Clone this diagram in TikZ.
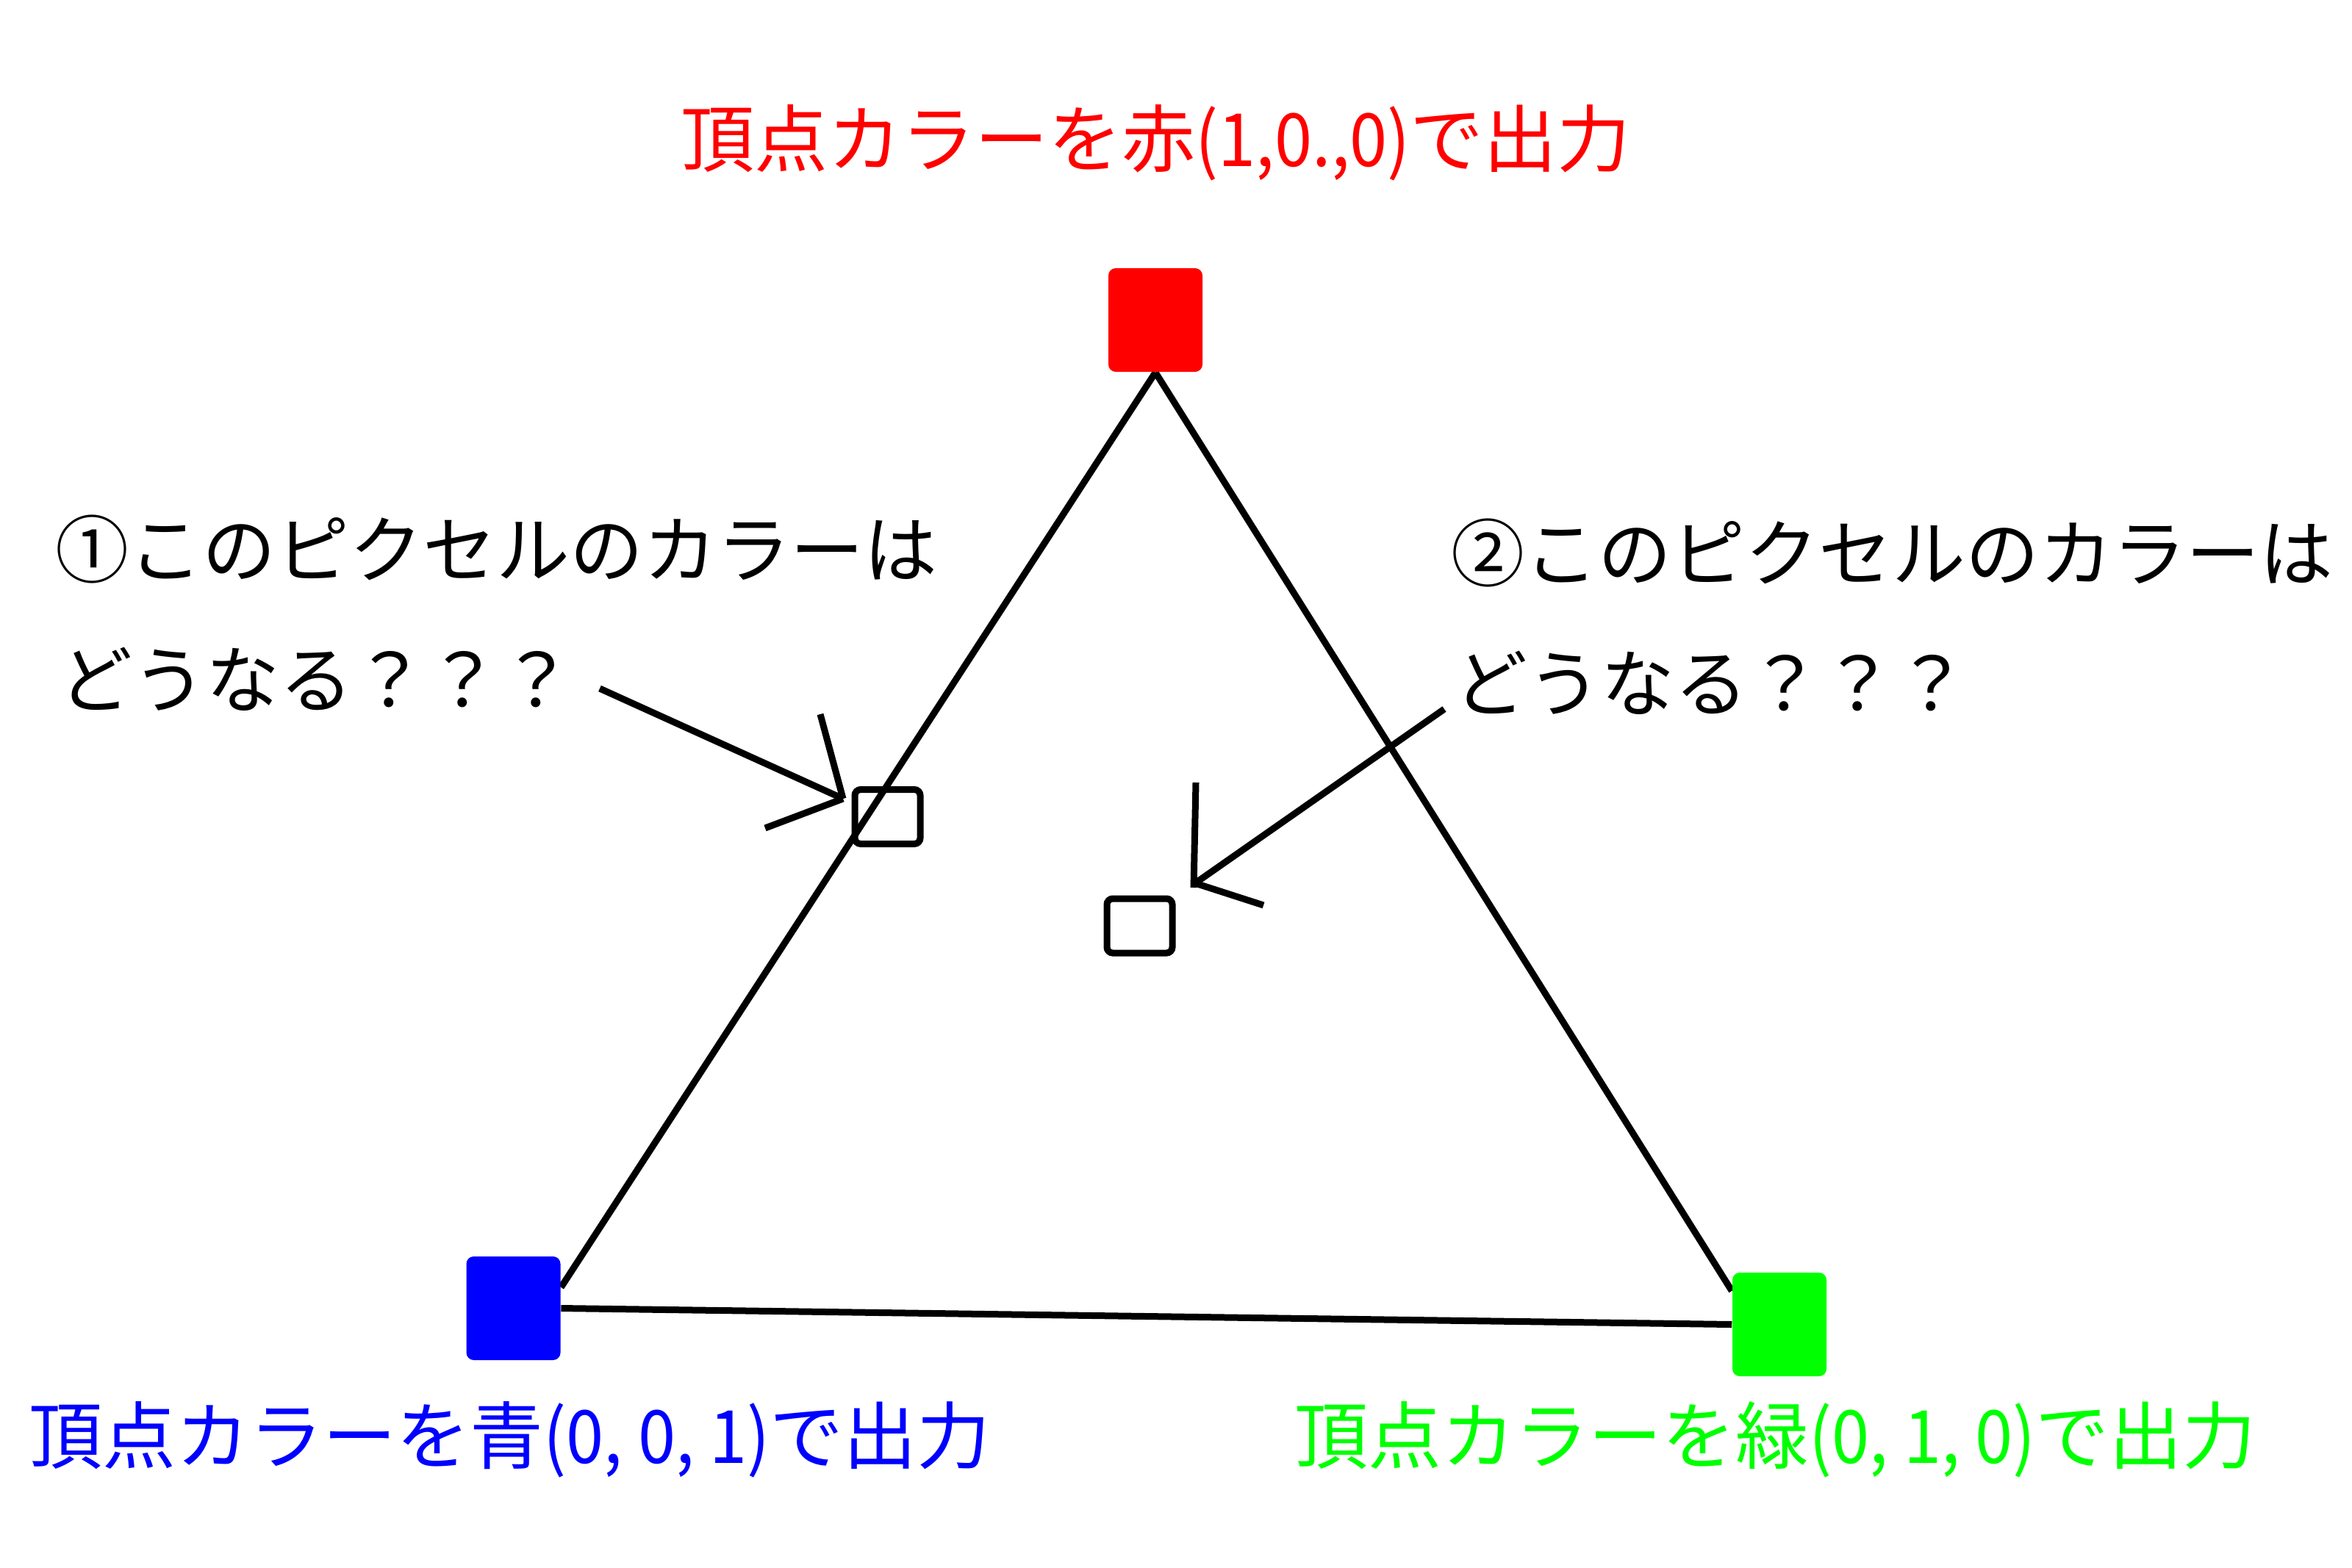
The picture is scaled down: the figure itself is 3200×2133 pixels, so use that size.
\documentclass[tikz,border=0pt]{standalone}
\usepackage{fontspec}
\newfontfamily\jp{Noto Sans CJK JP}
\usetikzlibrary{calc,backgrounds}
\definecolor{vred}{RGB}{255,0,0}
\definecolor{vblue}{RGB}{0,0,255}
\definecolor{vgreen}{RGB}{0,255,0}
\newcommand{\narrowpart}[1]{\scalebox{0.92}[1]{#1}}
\begin{document}
\begin{tikzpicture}[x=0.25pt,y=-0.25pt,
  vtx/.style={rectangle, rounded corners=2.5pt, inner sep=0pt, minimum width=32pt, minimum height=35.25pt},
  edge/.style={line width=2.25pt, draw=black},
  pix/.style={rectangle, draw=black, line width=2.25pt, rounded corners=2pt, inner sep=0pt, minimum width=22.25pt, minimum height=18.5pt},
  lbl/.style={anchor=base west, inner sep=0pt, font=\jp\fontsize{25pt}{30pt}\selectfont}]
\useasboundingbox (0,0) rectangle (3200,2133);

% vertices
\node[vtx, fill=vred]   (red)   at (1572,435.5) {};
\node[vtx, fill=vblue]  (blue)  at (698.5,1780.5) {};
\node[vtx, fill=vgreen] (green) at (2421,1802.5) {};

% pixels
\node[pix] (px1) at (1207.5,1111.5) {};
\node[pix] (px2) at (1550.5,1260) {};

% background and triangle edges
\begin{scope}[on background layer]
\fill[white] (0,0) rectangle (3200,2133);
\draw[edge] (red.south) -- ($(blue.north east)!0.3!(blue.south east)$);
\draw[edge] (red.south) -- ($(green.north west)!0.18!(green.south west)$);
\draw[edge] (blue.east) -- (green.west);
\end{scope}

% labels
\node[lbl, text=vred]   (tred)   at (926,226)  {頂点カラーを赤\narrowpart{(1,0.,0)}で出力};
\node[lbl, text=vblue]  (tblue)  at (39,1991)  {頂点カラーを青\narrowpart{(0, 0, 1)}で出力};
\node[lbl, text=vgreen] (tgreen) at (1761,1991) {頂点カラーを緑\narrowpart{(0, 1, 0)}で出力};

\node[lbl] (q1a) at (75,785) {①このピクセルのカラーは};
\node[lbl] (q1b) at (80,962) {どうなる？？？};
\node[lbl] (q2a) at (1974,790) {②このピクセルのカラーは};
\node[lbl] (q2b) at (1978,967) {どうなる？？？};

% arrow 1
\coordinate (a1s) at (816,937);
\coordinate (a1t) at (1147,1087);
\coordinate (a1h1) at (1116,972);
\coordinate (a1h2) at (1041,1127);
\draw[edge] (a1s) -- (a1t);
\draw[edge] (a1h1) -- (a1t);
\draw[edge] (a1h2) -- (a1t);

% arrow 2
\coordinate (a2s) at (1965,965);
\coordinate (a2t) at (1626,1202);
\coordinate (a2h1) at (1627,1065);
\coordinate (a2h2) at (1719,1232);
\coordinate (a2v) at (1624,1208);
\draw[edge] (a2s) -- (a2t);
\draw[edge] (a2h1) -- (a2v);
\draw[edge] (a2h2) -- (a2t);
\end{tikzpicture}
\end{document}
